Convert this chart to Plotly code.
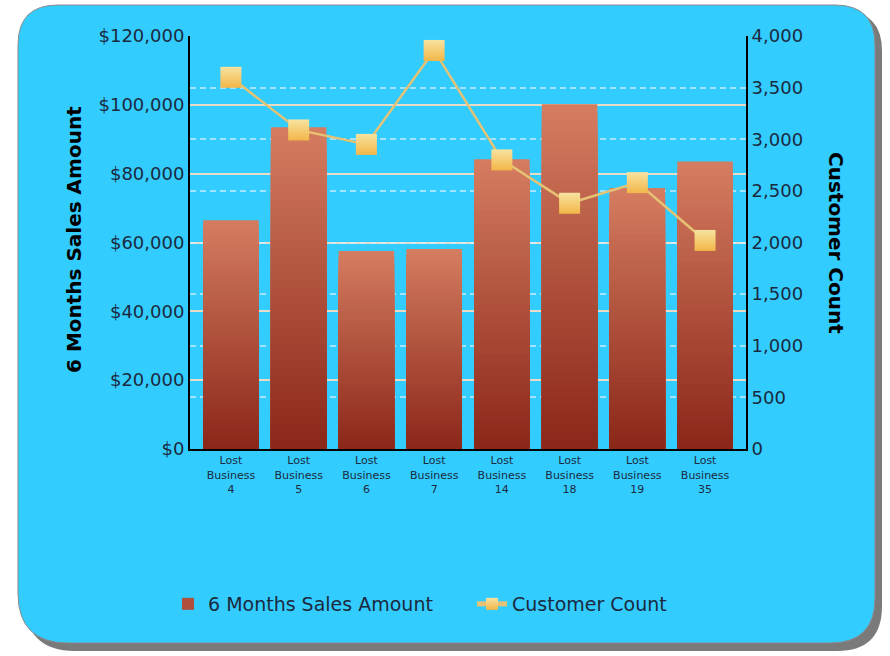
import plotly.graph_objects as go

categories = ["Lost<br>Business<br>4", "Lost<br>Business<br>5", "Lost<br>Business<br>6",
              "Lost<br>Business<br>7", "Lost<br>Business<br>14", "Lost<br>Business<br>18",
              "Lost<br>Business<br>19", "Lost<br>Business<br>35"]
sales = [66500, 93500, 57500, 58100, 84200, 100200, 75800, 83500]
customers = [3600, 3090, 2950, 3860, 2800, 2380, 2580, 2020]

W, H = 890, 656
L, R, T, B = 190, 746, 36, 449  # plot area in pixels


def px(x):
    return (x - L) / (R - L)


def py(y):
    return (B - y) / (B - T)


def rounded(x0, y0, x1, y1, rtl, rtr, rbr, rbl):
    pts = [
        ("M", (x0 + rtl, y0)),
        ("L", (x1 - rtr, y0)),
        ("Q", (x1, y0), (x1, y0 + rtr)),
        ("L", (x1, y1 - rbr)),
        ("Q", (x1, y1), (x1 - rbr, y1)),
        ("L", (x0 + rbl, y1)),
        ("Q", (x0, y1), (x0, y1 - rbl)),
        ("L", (x0, y0 + rtl)),
        ("Q", (x0, y0), (x0 + rtl, y0)),
    ]
    s = ""
    for p in pts:
        cmd = p[0]
        coords = " ".join(f"{px(a):.5f},{py(b):.5f}" for a, b in p[1:])
        s += f"{cmd} {coords} "
    return s + "Z"


fig = go.Figure()

# gradient bars via overlaid fractions of each bar's value
top = (212, 124, 96)
bot = (140, 40, 26)
n = 40
for i in range(n):
    f = 1 - i / n
    t = i / (n - 1)
    c = tuple(int(top[k] + (bot[k] - top[k]) * t) for k in range(3))
    fig.add_trace(go.Bar(
        x=categories, y=[v * f for v in sales],
        marker=dict(color=f"rgb{c}", line=dict(width=0)),
        name="6 Months Sales Amount",
        showlegend=(i == n // 2), legendgroup="sales",
        hoverinfo="skip" if i else None,
    ))

fig.add_trace(go.Scatter(
    x=categories, y=customers, yaxis="y2", mode="lines+markers",
    name="Customer Count",
    line=dict(color="#E6C274", width=2.5),
    marker=dict(symbol="square", size=21, color="#F8E3A0",
                gradient=dict(type="vertical", color="#F2B648"),
                line=dict(width=0)),
))

shapes = [
    dict(type="path", xref="paper", yref="paper", layer="below",
         path=rounded(25, 11, 882, 651, 40, 40, 45, 50),
         fillcolor="#7a7a7a", line=dict(width=0)),
    dict(type="path", xref="paper", yref="paper", layer="below",
         path=rounded(18, 5, 875, 643, 40, 40, 45, 50),
         fillcolor="#33CCFF", line=dict(color="#8a8a8a", width=1)),
]

font_c = "#1B2A3E"
fig.update_layout(
    width=W, height=H,
    margin=dict(l=L, r=W - R, t=T, b=H - B),
    paper_bgcolor="white", plot_bgcolor="rgba(0,0,0,0)",
    barmode="overlay", bargap=0.18,
    shapes=shapes,
    font=dict(family="DejaVu Sans", color=font_c),
    xaxis=dict(showline=True, linecolor="black", linewidth=2,
               tickfont=dict(size=11, color=font_c), ticks="", showgrid=False),
    yaxis=dict(range=[0, 120000], dtick=20000, tickprefix="$", tickformat=",d",
               showline=True, linecolor="black", linewidth=2,
               gridcolor="#E6DCC8", gridwidth=2,
               tickfont=dict(size=18, color=font_c), ticks="", zeroline=False),
    yaxis2=dict(range=[0, 4000], dtick=500, tickformat=",d", overlaying="y",
                side="right", showline=True, linecolor="black", linewidth=2,
                gridcolor="rgba(210,238,255,0.7)", gridwidth=2, griddash="6px,4px",
                tickfont=dict(size=18, color=font_c), ticks="", zeroline=False),
    legend=dict(orientation="h", x=px(168), xanchor="left", y=py(604),
                yanchor="middle", font=dict(size=19, color=font_c),
                bgcolor="rgba(0,0,0,0)", itemsizing="constant",
                entrywidth=259, entrywidthmode="pixels"),
    annotations=[
        dict(text="<b>6 Months Sales Amount</b>", textangle=-90, xref="paper",
             yref="paper", x=px(60), y=py(240), showarrow=False,
             font=dict(size=20, color="black")),
        dict(text="<b>Customer Count</b>", textangle=90, xref="paper",
             yref="paper", x=px(850), y=py(243), showarrow=False,
             font=dict(size=20, color="black")),
    ],
)

fig.write_html("out.html")
